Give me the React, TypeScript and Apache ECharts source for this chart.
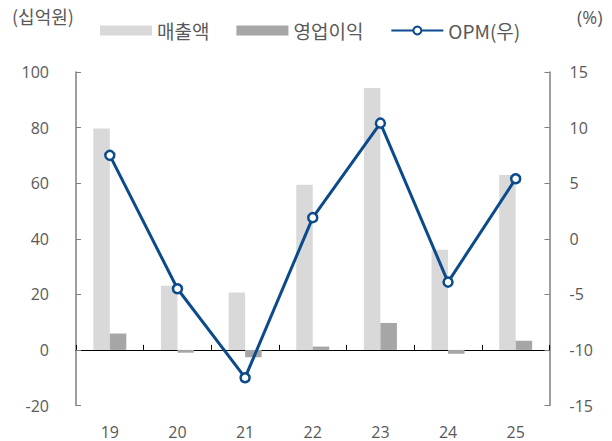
import React, { useEffect, useRef } from "react";
import * as echarts from "echarts";

const categories = ["19", "20", "21", "22", "23", "24", "25"];
const sales = [79.7, 23.1, 20.7, 59.4, 94.2, 36.0, 62.9];
const opProfit = [5.9, -1.0, -2.6, 1.2, 9.7, -1.4, 3.3];
const opm = [7.5, -4.5, -12.5, 1.9, 10.4, -3.9, 5.4];
const seriesNames = ["매출액", "영업이익", "OPM(우)"];
const leftUnit = "(십억원)";
const rightUnit = "(%)";

const TEXT = "#595959";
const BLUE = "#0B4A8B";
const FONT = "'Open Sans', 'Noto Sans CJK KR', sans-serif";
const KFONT = "'Noto Sans CJK KR', 'Open Sans', sans-serif";

export default function App() {
  const ref = useRef<HTMLDivElement>(null);
  useEffect(() => {
    if (!ref.current) return;
    const chart = echarts.init(ref.current, null, { renderer: "svg" });
    chart.setOption({
      animation: false,
      backgroundColor: "#fff",
      grid: { left: 76, right: 62.5, top: 72, bottom: 35.5, containLabel: false },
      legend: {
        left: 100,
        top: 21,
        padding: 0,
        itemWidth: 52,
        itemHeight: 10,
        itemGap: 27,
        textStyle: { fontFamily: KFONT, fontSize: 19, color: TEXT },
        data: [
          { name: seriesNames[0], icon: "rect" },
          { name: seriesNames[1], icon: "rect" },
          { name: seriesNames[2] },
        ],
      },
      graphic: [
        {
          type: "text",
          left: 12,
          top: 7,
          style: { text: leftUnit, fontFamily: KFONT, fontSize: 18, fill: TEXT },
        },
        {
          type: "text",
          left: 577,
          top: 8,
          style: { text: rightUnit, fontFamily: FONT, fontSize: 18, fill: TEXT },
        },
      ],
      xAxis: [
        {
          type: "category",
          data: categories,
          axisLine: { onZero: true, onZeroAxisIndex: 0, lineStyle: { color: "#000", width: 1 } },
          axisTick: { show: true, inside: true, length: 5, lineStyle: { color: "#000" } },
          axisLabel: { show: false },
        },
        {
          type: "category",
          data: categories,
          position: "bottom",
          axisLine: { show: false },
          axisTick: { show: false },
          axisLabel: { show: true, fontFamily: FONT, fontSize: 16, color: TEXT, margin: 18, lineHeight: 16 },
        },
      ],
      yAxis: [
        {
          type: "value",
          min: -20,
          max: 100,
          interval: 20,
          splitLine: { show: false },
          axisLine: { show: true, lineStyle: { color: "#7f7f7f", width: 1.5 } },
          axisTick: { show: true, inside: true, length: 5, lineStyle: { color: "#7f7f7f" } },
          axisLabel: { fontFamily: FONT, fontSize: 16, color: TEXT, margin: 27 },
        },
        {
          type: "value",
          min: -15,
          max: 15,
          interval: 5,
          position: "right",
          splitLine: { show: false },
          axisLine: { show: true, lineStyle: { color: "#7f7f7f", width: 1.5 } },
          axisTick: { show: true, inside: true, length: 5, lineStyle: { color: "#7f7f7f" } },
          axisLabel: { fontFamily: FONT, fontSize: 16, color: TEXT, margin: 20 },
        },
      ],
      series: [
        {
          name: seriesNames[0],
          type: "bar",
          xAxisIndex: 0,
          yAxisIndex: 0,
          data: sales,
          barWidth: 16.5,
          barGap: "0%",
          itemStyle: { color: "#D9D9D9" },
        },
        {
          name: seriesNames[1],
          type: "bar",
          xAxisIndex: 0,
          yAxisIndex: 0,
          data: opProfit,
          barWidth: 16.5,
          barGap: "0%",
          itemStyle: { color: "#A6A6A6" },
        },
        {
          name: seriesNames[2],
          type: "line",
          xAxisIndex: 0,
          yAxisIndex: 1,
          data: opm,
          symbol: "circle",
          symbolSize: 9,
          lineStyle: { color: BLUE, width: 3 },
          itemStyle: { color: "#fff", borderColor: BLUE, borderWidth: 2.5 },
          z: 5,
        },
      ],
    });
    return () => chart.dispose();
  }, []);
  return (
    <div
      ref={ref}
      style={{ position: "fixed", left: 0, top: 0, width: 612, height: 441 }}
    />
  );
}
